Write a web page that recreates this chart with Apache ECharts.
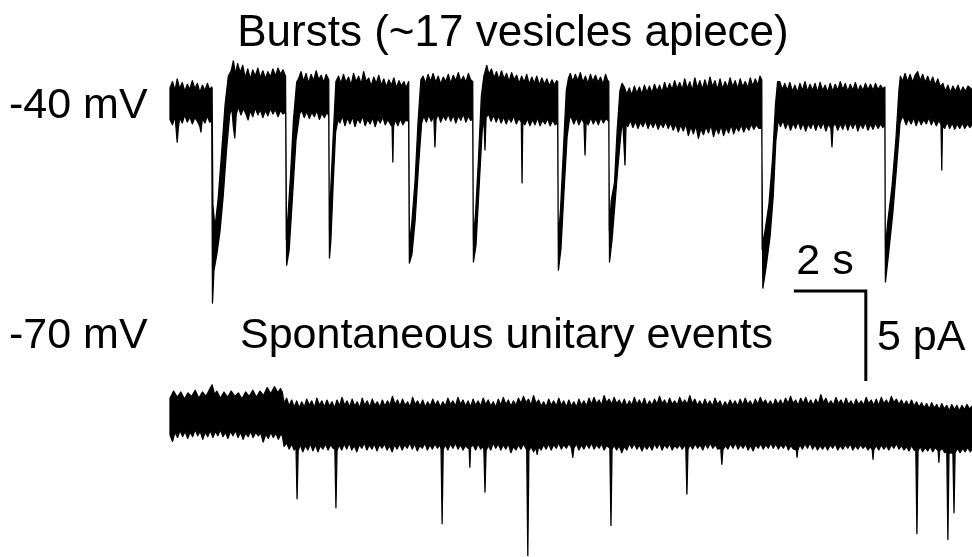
<!DOCTYPE html>
<html><head><meta charset="utf-8">
<script src="https://cdn.jsdelivr.net/npm/echarts@6/dist/echarts.min.js"></script>
<style>html,body{margin:0;padding:0;background:#fff}#c{width:972px;height:557px}</style>
</head><body><div id="c"></div>
<script>
// ---- Data (time in s, current in pA) ----
// -40 mV trace: upper and lower envelope of the recorded current
const topUpper = [
[0,0.95],[0.07,1.3],[0.14,0.8],[0.2,1.45],[0.27,0.9],[0.34,1.25],[0.41,0.75],[0.48,1.15],[0.55,0.85],[0.62,1.35],[0.69,0.9],[0.76,1.2],[0.83,0.7],[0.9,1.1],[0.97,0.8],[1.04,1.2],[1.1,0.85],[1.16,1.0],
[1.17,0.9],[1.19,-5.5],[1.25,-6.83],[1.34,-5.17],[1.43,-2.78],[1.53,0.0],[1.62,1.6],
[1.7,1.9],[1.76,2.45],[1.82,1.7],[1.88,2.3],[1.95,1.8],[2.02,2.2],[2.09,1.5],[2.16,2.0],[2.23,1.45],[2.3,1.95],[2.37,1.6],[2.44,2.05],[2.51,1.5],[2.58,1.9],[2.65,1.45],[2.72,1.85],[2.79,1.55],[2.86,2.0],[2.93,1.6],[3.0,2.05],[3.07,1.7],[3.14,1.95],[3.21,1.6],
[3.23,-7.5],[3.28,-6.11],[3.35,-3.89],[3.43,-0.83],[3.52,1.28],
[3.58,1.5],[3.64,1.85],[3.71,1.3],[3.78,1.75],[3.85,1.2],[3.92,1.7],[3.99,1.35],[4.06,1.9],[4.13,1.4],[4.2,1.65],[4.27,1.25],[4.34,1.7],[4.41,1.4],
[4.425,-7.0],[4.47,-4.5],[4.54,-1.5],[4.61,1.3],
[4.68,1.6],[4.75,1.2],[4.82,1.7],[4.89,1.25],[4.96,1.55],[5.03,1.1],[5.1,1.75],[5.17,1.3],[5.24,1.6],[5.31,1.15],[5.38,1.85],[5.45,1.3],[5.52,1.5],[5.59,1.05],[5.66,1.55],[5.73,1.2],[5.8,1.65],[5.87,1.1],[5.94,1.45],[6.01,1.0],[6.08,1.4],[6.15,1.1],[6.22,1.5],[6.29,0.95],[6.36,1.35],[6.43,1.05],[6.5,1.3],[6.56,0.95],[6.63,1.3],
[6.65,-7.8],[6.72,-6.5],[6.81,-4.2],[6.89,-1.0],[6.97,1.4],
[7.03,1.6],[7.1,1.2],[7.17,1.7],[7.24,1.3],[7.31,1.75],[7.38,1.25],[7.45,1.6],[7.52,1.15],[7.59,1.55],[7.66,1.3],[7.73,1.7],[7.8,1.2],[7.87,1.65],[7.94,1.35],[8.01,1.8],[8.08,1.3],[8.15,1.6],[8.22,1.25],[8.29,1.75],[8.35,1.4],[8.41,1.3],
[8.425,-7.5],[8.49,-6.0],[8.57,-3.0],[8.65,0.5],[8.72,1.6],
[8.8,2.2],[8.86,1.7],[8.93,2.0],[9.0,1.5],[9.07,1.85],[9.14,1.4],[9.21,1.9],[9.28,1.45],[9.35,1.75],[9.42,1.3],[9.49,1.8],[9.56,1.4],[9.63,1.65],[9.7,1.2],[9.77,1.6],[9.84,1.25],[9.91,1.7],[9.98,1.15],[10.05,1.55],[10.12,1.2],[10.19,1.6],[10.26,1.1],[10.33,1.5],[10.4,1.15],[10.47,1.45],[10.54,1.05],[10.61,1.4],[10.68,1.1],[10.74,1.35],[10.77,1.3],
[10.785,-7.5],[10.85,-5.8],[10.93,-2.5],[11.01,0.8],[11.07,1.5],
[11.12,1.75],[11.19,1.3],[11.26,1.7],[11.33,1.35],[11.4,1.8],[11.47,1.25],[11.54,1.6],[11.61,1.2],[11.68,1.7],[11.75,1.3],[11.82,1.65],[11.89,1.25],[11.96,1.55],[12.03,1.15],[12.1,1.7],[12.15,1.4],[12.19,1.3],
[12.2,-7.0],[12.26,-5.3],[12.35,-4.3],[12.42,-1.5],[12.5,0.8],[12.56,1.2],
[12.62,1.0],[12.69,0.6],[12.76,0.95],[12.83,0.55],[12.9,1.05],[12.97,0.65],[13.04,1.0],[13.11,0.6],[13.18,1.1],[13.25,0.7],[13.32,1.05],[13.39,0.65],[13.46,1.15],[13.53,0.75],[13.6,1.1],[13.67,0.7],[13.74,1.25],[13.81,0.8],[13.88,1.2],[13.95,0.85],[14.02,1.35],[14.09,0.9],[14.16,1.25],[14.23,0.85],[14.3,1.45],[14.37,0.9],[14.44,1.3],[14.51,0.8],[14.58,1.5],[14.65,0.95],[14.72,1.35],[14.79,0.85],[14.86,1.4],[14.93,0.9],[15.0,1.55],[15.07,1.0],[15.14,1.35],[15.21,0.85],[15.28,1.45],[15.35,0.9],[15.42,1.3],[15.49,0.95],[15.56,1.5],[15.63,1.0],[15.7,1.35],[15.77,0.9],[15.84,1.45],[15.91,1.0],[15.98,1.3],[16.05,0.95],[16.12,1.5],[16.19,1.05],[16.26,1.45],[16.33,1.1],[16.39,1.6],[16.44,1.4],
[16.45,-8.0],[16.53,-7.0],[16.64,-5.5],[16.74,-3.0],[16.82,0.0],[16.88,1.3],
[16.94,1.3],[17.01,0.85],[17.08,1.2],[17.15,0.8],[17.22,1.25],[17.29,0.75],[17.36,1.1],[17.43,0.7],[17.5,1.2],[17.57,0.8],[17.64,1.3],[17.71,0.75],[17.78,1.15],[17.85,0.8],[17.92,1.2],[17.99,0.7],[18.06,1.25],[18.13,0.8],[18.2,1.1],[18.27,0.7],[18.34,1.2],[18.41,0.75],[18.48,1.15],[18.55,0.8],[18.62,1.3],[18.69,0.85],[18.76,1.2],[18.83,0.75],[18.9,1.15],[18.97,0.8],[19.04,1.25],[19.11,0.75],[19.18,1.1],[19.25,0.8],[19.32,1.2],[19.39,0.85],[19.46,1.15],[19.53,0.8],[19.6,1.2],[19.67,0.85],[19.74,1.1],[19.8,0.9],[19.86,1.0],
[19.87,-8.0],[19.94,-6.5],[20.06,-4.5],[20.17,-1.8],[20.25,0.8],[20.29,1.6],
[20.35,1.3],[20.42,1.75],[20.49,1.3],[20.56,1.7],[20.63,1.25],[20.7,1.65],[20.77,1.85],[20.84,1.35],[20.91,1.7],[20.98,1.25],[21.05,1.6],[21.12,1.2],[21.19,1.55],[21.26,1.1],[21.33,1.45],[21.4,1.0],[21.47,1.2],[21.54,0.75],[21.61,1.1],[21.68,0.7],[21.75,1.05],[21.82,0.75],[21.89,1.1],[21.96,0.7],[22.03,1.0],[22.1,0.75],[22.17,1.05],[22.28,0.85]
];
const topLower = [
[0,-0.8],[0.07,-1.1],[0.14,-0.6],[0.2,-2.06],[0.23,-1.3],[0.27,-0.7],[0.34,-1.0],[0.41,-0.55],[0.48,-0.95],[0.55,-0.65],[0.62,-1.05],[0.69,-0.7],[0.76,-0.9],[0.83,-1.2],[0.86,-1.5],[0.9,-0.75],[0.97,-1.0],[1.04,-0.6],[1.1,-0.95],[1.16,-0.9],
[1.18,-11.0],[1.22,-9.2],[1.30,-8.3],[1.39,-7.0],[1.48,-5.0],[1.57,-2.5],[1.66,-0.5],
[1.72,-0.2],[1.76,-1.2],[1.8,-1.83],[1.84,-0.5],[1.9,-0.1],[1.97,-0.55],[2.04,-0.2],[2.11,-0.5],[2.17,-0.83],[2.23,-0.3],[2.3,-0.65],[2.37,-0.15],[2.44,-0.55],[2.51,-0.25],[2.58,-0.7],[2.65,-0.3],[2.72,-0.6],[2.79,-0.2],[2.86,-0.5],[2.93,-0.25],[3.0,-0.65],[3.07,-0.3],[3.14,-0.5],[3.217,-0.4],
[3.24,-8.89],[3.31,-8.06],[3.40,-5.17],[3.50,-1.94],[3.60,-0.5],
[3.66,-0.3],[3.73,-0.7],[3.8,-0.35],[3.87,-0.75],[3.94,-0.4],[4.01,-0.65],[4.08,-0.3],[4.15,-0.8],[4.22,-0.45],[4.29,-0.7],[4.36,-0.4],[4.41,-0.6],
[4.43,-8.5],[4.47,-7.5],[4.53,-4.5],[4.60,-1.5],[4.67,-0.8],
[4.72,-1.0],[4.79,-0.6],[4.86,-1.15],[4.93,-0.7],[5.0,-1.05],[5.07,-0.65],[5.14,-1.2],[5.21,-0.75],[5.28,-1.0],[5.35,-0.6],[5.42,-1.15],[5.49,-0.8],[5.56,-1.05],[5.63,-0.7],[5.7,-1.2],[5.77,-0.75],[5.84,-1.0],[5.91,-0.65],[5.98,-1.1],[6.05,-0.8],[6.12,-1.05],[6.17,-1.2],[6.19,-3.17],[6.21,-1.2],[6.26,-0.8],[6.33,-1.15],[6.4,-0.75],[6.47,-1.1],[6.54,-0.85],[6.63,-0.9],
[6.65,-8.78],[6.72,-8.3],[6.81,-6.4],[6.90,-3.5],[6.99,-1.0],
[7.05,-0.6],[7.12,-0.95],[7.19,-0.55],[7.26,-0.9],[7.33,-0.6],[7.36,-2.33],[7.39,-0.8],[7.45,-0.5],[7.52,-0.95],[7.59,-0.6],[7.66,-0.85],[7.73,-0.5],[7.8,-0.9],[7.87,-0.55],[7.94,-1.0],[8.01,-0.6],[8.08,-0.85],[8.15,-0.5],[8.22,-0.95],[8.29,-0.6],[8.35,-0.85],[8.41,-0.8],
[8.43,-8.72],[8.5,-7.8],[8.58,-4.8],[8.67,-1.5],[8.72,-0.6],[8.75,-2.5],[8.78,-0.7],
[8.85,-0.5],[8.92,-0.9],[8.99,-0.55],[9.06,-0.95],[9.13,-0.6],[9.2,-1.0],[9.27,-0.65],[9.34,-1.05],[9.41,-0.7],[9.48,-0.95],[9.55,-0.6],[9.62,-1.05],[9.69,-0.75],[9.76,-0.95],[9.78,-4.33],[9.8,-0.95],[9.86,-1.1],[9.93,-0.75],[10.0,-1.15],[10.07,-0.8],[10.14,-1.1],[10.21,-0.7],[10.28,-1.15],[10.35,-0.85],[10.42,-1.05],[10.49,-0.75],[10.56,-1.15],[10.63,-0.85],[10.7,-1.1],[10.77,-1.0],
[10.79,-9.17],[10.86,-8.0],[10.94,-5.0],[11.03,-1.8],[11.10,-0.7],
[11.15,-0.7],[11.22,-1.05],[11.29,-0.7],[11.36,-1.1],[11.43,-0.75],[11.5,-1.0],[11.53,-2.78],[11.56,-0.9],[11.62,-1.1],[11.69,-0.7],[11.76,-1.05],[11.83,-0.75],[11.9,-1.1],[11.97,-0.7],[12.04,-1.0],[12.11,-0.75],[12.19,-0.9],
[12.21,-8.72],[12.28,-7.5],[12.36,-5.5],[12.44,-3.5],[12.53,-1.5],[12.58,-0.9],[12.64,-3.33],[12.67,-1.0],
[12.72,-1.2],[12.79,-0.85],[12.86,-1.25],[12.93,-0.9],[13.0,-1.3],[13.07,-0.95],[13.14,-1.2],[13.21,-0.85],[13.28,-1.3],[13.35,-0.95],[13.42,-1.25],[13.49,-0.9],[13.56,-1.35],[13.63,-1.0],[13.7,-1.25],[13.77,-0.9],[13.84,-1.3],[13.91,-1.0],[13.98,-1.4],[14.05,-1.05],[14.12,-1.5],[14.19,-1.1],[14.26,-1.45],[14.33,-1.05],[14.4,-1.7],[14.47,-1.2],[14.54,-1.6],[14.61,-1.15],[14.68,-1.85],[14.75,-1.3],[14.82,-1.65],[14.89,-1.2],[14.96,-1.55],[15.03,-1.1],[15.1,-1.75],[15.17,-1.25],[15.24,-1.6],[15.31,-1.15],[15.38,-1.7],[15.45,-1.25],[15.52,-1.55],[15.59,-1.1],[15.66,-1.6],[15.73,-1.2],[15.8,-1.45],[15.87,-1.1],[15.94,-1.5],[16.01,-1.15],[16.08,-1.4],[16.15,-1.05],[16.22,-1.35],[16.29,-1.1],[16.36,-1.3],[16.44,-1.3],
[16.47,-10.17],[16.56,-9.0],[16.67,-7.3],[16.76,-5.0],[16.83,-2.0],[16.90,-0.8],
[16.96,-1.2],[17.03,-0.85],[17.1,-1.3],[17.17,-0.95],[17.24,-1.4],[17.31,-1.0],[17.38,-1.3],[17.45,-0.9],[17.52,-1.35],[17.59,-1.0],[17.66,-1.45],[17.73,-1.05],[17.8,-1.3],[17.87,-0.95],[17.94,-1.4],[18.01,-1.0],[18.08,-1.3],[18.15,-0.95],[18.22,-1.45],[18.29,-1.05],[18.36,-1.3],[18.39,-2.33],[18.42,-1.2],[18.48,-1.0],[18.55,-1.4],[18.62,-1.05],[18.69,-1.35],[18.76,-0.95],[18.83,-1.4],[18.9,-1.0],[18.97,-1.3],[19.04,-0.95],[19.11,-1.45],[19.18,-1.05],[19.25,-1.3],[19.32,-0.95],[19.39,-1.4],[19.46,-1.05],[19.53,-1.35],[19.6,-1.0],[19.67,-1.3],[19.74,-1.05],[19.8,-1.25],[19.86,-1.1],
[19.875,-9.83],[19.96,-8.3],[20.08,-6.0],[20.19,-3.3],[20.28,-1.0],[20.33,-0.7],
[20.38,-0.7],[20.45,-1.1],[20.52,-0.75],[20.59,-1.05],[20.66,-0.7],[20.73,-1.15],[20.8,-0.75],[20.87,-1.1],[20.94,-0.8],[21.01,-1.05],[21.08,-0.7],[21.15,-1.1],[21.22,-0.8],[21.29,-1.15],[21.36,-0.85],[21.42,-1.1],[21.44,-3.61],[21.46,-1.15],[21.52,-1.3],[21.59,-0.95],[21.66,-1.3],[21.73,-1.0],[21.8,-1.35],[21.87,-1.05],[21.94,-1.3],[22.01,-1.0],[22.08,-1.3],[22.15,-1.05],[22.22,-1.25],[22.28,-1.1]
];
// -70 mV trace: upper and lower envelope
const botUpper = [
[0,1.2],[0.1,1.6],[0.2,1.25],[0.3,1.55],[0.4,1.15],[0.5,1.5],[0.6,1.3],[0.7,1.65],[0.8,1.2],[0.9,1.55],[1.0,1.3],[1.1,1.7],[1.17,1.95],[1.24,1.4],[1.3,1.6],[1.4,1.2],[1.5,1.55],[1.6,1.25],[1.7,1.6],[1.8,1.3],[1.9,1.5],[2.0,1.15],[2.1,1.55],[2.2,1.3],[2.3,1.65],[2.4,1.25],[2.5,1.6],[2.6,1.35],[2.7,1.8],[2.8,1.45],[2.9,1.85],[3.0,1.5],[3.07,1.75],[3.12,1.55],
[3.17,0.9],[3.24,1.2],[3.31,0.75],[3.38,1.1],[3.45,0.7],[3.52,1.05],[3.59,0.65],[3.66,1.0],[3.73,0.7],[3.8,1.15],[3.87,0.8],[3.94,1.05],[4.01,0.65],[4.08,1.2],[4.15,0.8],[4.22,1.05],[4.29,0.7],[4.36,1.1],[4.43,0.75],[4.5,1.0],[4.57,0.65],[4.64,1.1],[4.71,0.75],[4.78,1.25],[4.85,0.8],[4.92,1.05],[4.99,0.7],[5.06,1.15],[5.13,0.75],[5.2,1.0],[5.27,0.65],[5.34,1.2],[5.41,0.8],[5.48,1.05],[5.55,0.7],[5.62,1.15],[5.69,0.8],[5.76,1.0],[5.83,0.7],[5.9,1.1],[5.97,0.75],[6.04,1.05],[6.11,0.8],[6.18,1.3],[6.25,0.85],[6.32,1.1],[6.39,0.75],[6.46,1.15],[6.53,0.8],[6.6,1.0],[6.67,0.7],[6.74,1.25],[6.81,0.85],[6.88,1.05],[6.95,0.75],[7.02,1.1],[7.09,0.7],[7.16,1.0],[7.23,0.75],[7.3,1.15],[7.37,0.8],[7.44,1.05],[7.51,0.7],[7.58,1.0],[7.65,0.75],[7.72,1.2],[7.79,0.85],[7.86,1.05],[7.93,0.75],[8.0,1.25],[8.07,0.85],[8.14,1.1],[8.21,0.75],[8.28,1.05],[8.35,0.7],[8.42,1.15],[8.49,0.8],[8.56,1.05],[8.63,0.75],[8.7,1.2],[8.77,0.85],[8.84,1.1],[8.91,0.75],[8.98,1.0],[9.05,0.7],[9.12,1.15],[9.19,0.8],[9.26,1.25],[9.33,0.85],[9.4,1.1],[9.47,0.75],[9.54,1.05],[9.61,0.8],[9.68,1.2],[9.75,0.9],[9.82,1.3],[9.89,0.95],[9.96,1.15],[10.03,0.8],[10.1,1.35],[10.17,0.9],[10.24,1.1],[10.31,0.75],[10.38,1.0],[10.45,0.7],[10.52,1.15],[10.59,0.8],[10.66,1.05],[10.73,0.75],[10.8,1.2],[10.87,0.8],[10.94,1.05],[11.01,0.7],[11.08,1.1],[11.15,0.75],[11.22,1.0],[11.29,0.7],[11.36,1.15],[11.43,0.8],[11.5,1.05],[11.57,0.75],[11.64,1.2],[11.71,0.85],[11.78,1.25],[11.85,0.9],[11.92,1.1],[11.99,0.8],[12.06,1.35],[12.13,0.95],[12.2,1.15],[12.27,0.85],[12.34,1.25],[12.41,0.9],[12.48,1.1],[12.55,0.8],[12.62,1.15],[12.69,0.75],[12.76,1.05],[12.83,0.8],[12.9,1.25],[12.97,0.85],[13.04,1.1],[13.11,0.8],[13.18,1.2],[13.25,0.75],[13.32,1.05],[13.39,0.8],[13.46,1.15],[13.53,0.85],[13.6,1.3],[13.67,0.9],[13.74,1.1],[13.81,0.8],[13.88,1.2],[13.95,0.85],[14.02,1.05],[14.09,0.8],[14.16,1.25],[14.23,0.9],[14.3,1.1],[14.37,0.85],[14.44,1.35],[14.51,0.9],[14.58,1.15],[14.65,0.8],[14.72,1.05],[14.79,0.75],[14.86,1.15],[14.93,0.8],[15.0,1.05],[15.07,0.75],[15.14,1.2],[15.21,0.85],[15.28,1.05],[15.35,0.7],[15.42,1.0],[15.49,0.75],[15.56,1.1],[15.63,0.8],[15.7,1.05],[15.77,0.75],[15.84,1.15],[15.91,0.8],[15.98,1.2],[16.05,0.85],[16.12,1.05],[16.19,0.75],[16.26,1.15],[16.33,0.85],[16.4,1.25],[16.47,0.9],[16.54,1.1],[16.61,0.8],[16.68,1.05],[16.75,0.75],[16.82,1.15],[16.89,0.85],[16.96,1.1],[17.03,0.8],[17.1,1.2],[17.17,0.9],[17.24,1.3],[17.31,0.9],[17.38,1.1],[17.45,0.8],[17.52,1.2],[17.59,0.9],[17.66,1.25],[17.73,0.85],[17.8,1.1],[17.87,0.8],[17.94,1.15],[18.01,0.85],[18.08,1.4],[18.15,0.95],[18.22,1.2],[18.29,0.85],[18.36,1.05],[18.43,0.8],[18.5,1.25],[18.57,0.9],[18.64,1.1],[18.71,0.8],[18.78,1.2],[18.85,0.85],[18.92,1.05],[18.99,0.75],[19.06,1.15],[19.13,0.85],[19.2,1.05],[19.27,0.8],[19.34,1.25],[19.41,0.9],[19.48,1.1],[19.55,0.8],[19.62,1.15],[19.69,0.8],[19.76,1.25],[19.83,0.9],[19.9,1.1],[19.97,0.85],[20.04,1.3],[20.11,0.95],[20.18,1.15],[20.25,0.85],[20.32,1.1],[20.39,0.8],[20.46,1.05],[20.53,0.75],[20.6,1.1],[20.67,0.75],[20.74,1.0],[20.81,0.7],[20.88,0.95],[20.95,0.65],[21.02,0.9],[21.09,0.6],[21.16,0.95],[21.23,0.65],[21.3,0.85],[21.37,0.55],[21.44,0.9],[21.51,0.6],[21.58,0.8],[21.65,0.5],[21.72,0.85],[21.79,0.55],[21.86,0.8],[21.93,0.5],[22.0,0.8],[22.07,0.55],[22.14,0.85],[22.21,0.6],[22.28,0.75]
];
const botLower = [
[0,-0.85],[0.07,-1.22],[0.14,-0.7],[0.21,-1.0],[0.28,-0.6],[0.35,-0.95],[0.42,-0.65],[0.49,-1.05],[0.56,-0.7],[0.63,-0.95],[0.7,-0.55],[0.77,-0.9],[0.84,-0.65],[0.91,-1.1],[0.98,-0.7],[1.05,-0.95],[1.12,-0.6],[1.19,-1.0],[1.26,-0.65],[1.33,-0.9],[1.4,-0.55],[1.47,-0.95],[1.54,-0.7],[1.61,-1.05],[1.68,-0.65],[1.75,-0.9],[1.82,-0.6],[1.89,-1.0],[1.96,-0.7],[2.03,-1.1],[2.1,-0.75],[2.17,-0.95],[2.24,-0.65],[2.31,-1.0],[2.38,-0.7],[2.45,-0.9],[2.52,-0.75],[2.59,-1.25],[2.66,-0.8],[2.73,-1.05],[2.8,-0.7],[2.87,-1.0],[2.94,-0.75],[3.01,-1.1],[3.08,-0.8],[3.12,-0.9],
[3.17,-1.5],[3.24,-1.3],[3.31,-1.65],[3.38,-1.35],[3.45,-1.7],[3.5,-1.5],[3.53,-4.44],[3.56,-1.75],[3.62,-1.4],[3.69,-1.8],[3.76,-1.45],[3.83,-1.7],[3.9,-1.35],[3.97,-1.75],[4.04,-1.4],[4.11,-1.8],[4.18,-1.45],[4.25,-1.65],[4.32,-1.35],[4.39,-1.7],[4.46,-1.4],[4.53,-1.6],[4.58,-1.65],[4.61,-4.94],[4.64,-1.75],[4.7,-1.4],[4.77,-1.7],[4.84,-1.35],[4.91,-1.65],[4.98,-1.3],[5.05,-1.7],[5.12,-1.45],[5.19,-1.8],[5.26,-1.4],[5.33,-1.6],[5.4,-1.3],[5.47,-1.7],[5.54,-1.4],[5.61,-1.65],[5.68,-1.35],[5.75,-1.75],[5.82,-1.4],[5.89,-1.6],[5.96,-1.35],[6.03,-1.7],[6.1,-1.45],[6.17,-1.8],[6.24,-1.4],[6.31,-1.65],[6.38,-1.35],[6.45,-1.7],[6.52,-1.4],[6.59,-1.6],[6.66,-1.3],[6.73,-1.65],[6.8,-1.35],[6.87,-1.75],[6.94,-1.45],[7.01,-1.6],[7.08,-1.3],[7.15,-1.7],[7.22,-1.4],[7.29,-1.65],[7.36,-1.35],[7.43,-1.6],[7.5,-1.4],[7.53,-1.65],[7.56,-5.83],[7.59,-1.65],[7.65,-1.4],[7.72,-1.7],[7.79,-1.35],[7.86,-1.6],[7.93,-1.3],[8.0,-1.65],[8.07,-1.4],[8.14,-1.7],[8.21,-1.45],[8.28,-1.6],[8.31,-1.55],[8.33,-2.67],[8.35,-1.55],[8.42,-1.4],[8.49,-1.7],[8.56,-1.35],[8.63,-1.65],[8.7,-1.5],[8.72,-1.7],[8.75,-4.06],[8.78,-1.75],[8.84,-1.45],[8.91,-1.7],[8.98,-1.3],[9.05,-1.6],[9.12,-1.35],[9.19,-1.7],[9.26,-1.4],[9.33,-1.65],[9.4,-1.35],[9.47,-1.85],[9.54,-1.5],[9.61,-1.7],[9.68,-1.4],[9.75,-1.65],[9.82,-1.35],[9.91,-1.7],[9.94,-7.61],[9.97,-1.75],[10.03,-1.5],[10.1,-1.8],[10.17,-1.55],[10.2,-1.95],[10.24,-1.5],[10.31,-1.7],[10.38,-1.4],[10.45,-1.65],[10.52,-1.35],[10.59,-1.7],[10.66,-1.4],[10.73,-1.6],[10.8,-1.3],[10.87,-1.65],[10.94,-1.4],[11.01,-1.6],[11.08,-1.35],[11.15,-1.55],[11.19,-2.11],[11.22,-1.6],[11.29,-1.35],[11.36,-1.7],[11.43,-1.4],[11.5,-1.65],[11.57,-1.35],[11.64,-1.6],[11.71,-1.3],[11.78,-1.65],[11.85,-1.4],[11.92,-1.6],[11.99,-1.35],[12.06,-1.7],[12.13,-1.45],[12.22,-1.6],[12.25,-5.94],[12.28,-1.65],[12.34,-1.45],[12.41,-1.7],[12.48,-1.45],[12.55,-1.85],[12.62,-1.5],[12.69,-1.7],[12.76,-1.35],[12.83,-1.6],[12.9,-1.35],[12.97,-1.65],[13.04,-1.4],[13.11,-1.75],[13.18,-1.45],[13.25,-1.65],[13.32,-1.4],[13.39,-1.7],[13.46,-1.35],[13.53,-1.6],[13.6,-1.3],[13.67,-1.7],[13.74,-1.4],[13.81,-1.6],[13.88,-1.35],[13.95,-1.7],[14.02,-1.45],[14.09,-1.6],[14.16,-1.4],[14.23,-1.65],[14.3,-1.4],[14.33,-1.6],[14.36,-4.17],[14.39,-1.65],[14.45,-1.4],[14.52,-1.65],[14.59,-1.35],[14.66,-1.6],[14.73,-1.4],[14.8,-1.7],[14.87,-1.35],[14.94,-1.6],[15.01,-1.3],[15.08,-1.6],[15.15,-1.4],[15.22,-1.65],[15.3,-1.6],[15.33,-2.5],[15.36,-1.7],[15.43,-1.45],[15.5,-1.65],[15.57,-1.35],[15.64,-1.6],[15.71,-1.3],[15.78,-1.65],[15.85,-1.4],[15.92,-1.6],[15.99,-1.35],[16.06,-1.7],[16.13,-1.45],[16.2,-1.75],[16.27,-1.4],[16.34,-1.6],[16.41,-1.35],[16.48,-1.65],[16.55,-1.4],[16.62,-1.6],[16.69,-1.3],[16.76,-1.6],[16.83,-1.35],[16.9,-1.65],[16.97,-1.4],[17.04,-1.6],[17.11,-1.35],[17.18,-1.7],[17.25,-1.45],[17.32,-1.65],[17.4,-1.7],[17.42,-2.11],[17.44,-1.7],[17.5,-1.4],[17.57,-1.65],[17.64,-1.35],[17.71,-1.6],[17.78,-1.3],[17.85,-1.65],[17.92,-1.4],[17.99,-1.7],[18.06,-1.45],[18.13,-1.65],[18.2,-1.4],[18.27,-1.7],[18.34,-1.4],[18.41,-1.6],[18.48,-1.35],[18.55,-1.7],[18.62,-1.45],[18.69,-1.65],[18.76,-1.4],[18.83,-1.6],[18.9,-1.35],[18.97,-1.7],[19.04,-1.45],[19.11,-1.65],[19.18,-1.4],[19.25,-1.6],[19.32,-1.45],[19.39,-1.7],[19.46,-1.5],[19.51,-1.7],[19.53,-2.22],[19.55,-1.7],[19.62,-1.45],[19.69,-1.7],[19.76,-1.4],[19.83,-1.65],[19.9,-1.45],[19.97,-1.7],[20.04,-1.4],[20.11,-1.6],[20.18,-1.35],[20.25,-1.65],[20.32,-1.45],[20.39,-1.7],[20.46,-1.5],[20.53,-1.75],[20.6,-1.45],[20.67,-1.7],[20.72,-1.75],[20.75,-6.39],[20.78,-1.75],[20.84,-1.5],[20.91,-1.8],[20.98,-1.55],[21.05,-1.75],[21.12,-1.5],[21.19,-1.8],[21.26,-1.55],[21.34,-1.75],[21.36,-2.39],[21.38,-1.75],[21.45,-1.6],[21.52,-1.85],[21.58,-1.8],[21.61,-6.72],[21.64,-1.9],[21.7,-1.85],[21.75,-1.9],[21.78,-5.22],[21.81,-1.85],[21.88,-1.6],[21.95,-1.85],[22.02,-1.6],[22.09,-1.8],[22.16,-1.55],[22.23,-1.8],[22.28,-1.65]
];
// Scale bar: 2 s by 5 pA, anchored in the -40 mV panel's coordinates
const scaleBarStart = [17.33, -10.33];
const scaleBarSeconds = 2;
const scaleBarPicoamps = 5;
const traceLabels = ['-40 mV', '-70 mV'];
const titleTexts = ['Bursts (~17 vesicles apiece)', 'Spontaneous unitary events'];
const scaleLabels = ['2 s', '5 pA'];

// ---- Chart ----
const FAMILY = '"Liberation Sans", Arial, sans-serif';
function bandRenderer(upper, lower) {
  return function (params, api) {
    const pts = [];
    for (let i = 0; i < upper.length; i++) pts.push(api.coord(upper[i]));
    for (let i = lower.length - 1; i >= 0; i--) pts.push(api.coord(lower[i]));
    return {
      type: 'polygon',
      shape: { points: pts },
      style: { fill: '#000', stroke: '#000', lineWidth: 1.3, lineJoin: 'round' }
    };
  };
}
function txt(text, x, y, align, size) {
  return {
    type: 'text', x: x, y: y, silent: true,
    style: { text: text, font: size + 'px ' + FAMILY, fill: '#000', align: align, verticalAlign: 'middle', textAlign: align, textVerticalAlign: 'middle' }
  };
}
const sb = [
  scaleBarStart,
  [scaleBarStart[0] + scaleBarSeconds, scaleBarStart[1]],
  [scaleBarStart[0] + scaleBarSeconds, scaleBarStart[1] - scaleBarPicoamps]
];
const chart = echarts.init(document.getElementById('c'), null, { renderer: 'canvas' });
chart.setOption({
  animation: false,
  backgroundColor: '#fff',
  grid: [
    { left: 170, width: 802, top: 51, height: 270 },
    { left: 170, width: 802, top: 384, height: 174.6 }
  ],
  xAxis: [
    { gridIndex: 0, type: 'value', min: 0, max: 22.28, show: false },
    { gridIndex: 1, type: 'value', min: 0, max: 22.28, show: false }
  ],
  yAxis: [
    { gridIndex: 0, type: 'value', min: -12, max: 3, show: false },
    { gridIndex: 1, type: 'value', min: -7.7, max: 2, show: false }
  ],
  series: [
    { type: 'custom', xAxisIndex: 0, yAxisIndex: 0, data: [[0, 0]], clip: false, silent: true, renderItem: bandRenderer(topUpper, topLower) },
    { type: 'custom', xAxisIndex: 1, yAxisIndex: 1, data: [[0, 0]], clip: false, silent: true, renderItem: bandRenderer(botUpper, botLower) },
    { type: 'line', xAxisIndex: 0, yAxisIndex: 0, data: sb, symbol: 'none', clip: false, silent: true,
      lineStyle: { color: '#000', width: 3, cap: 'butt', join: 'miter' } }
  ],
  graphic: [
    txt(titleTexts[0], 513, 34, 'center', 44),
    txt(traceLabels[0], 9, 106, 'left', 43),
    txt(traceLabels[1], 9, 336, 'left', 43),
    txt(titleTexts[1], 240, 336, 'left', 43),
    txt(scaleLabels[0], 825, 262, 'center', 43),
    txt(scaleLabels[1], 877, 338, 'left', 43)
  ]
});
</script></body></html>
